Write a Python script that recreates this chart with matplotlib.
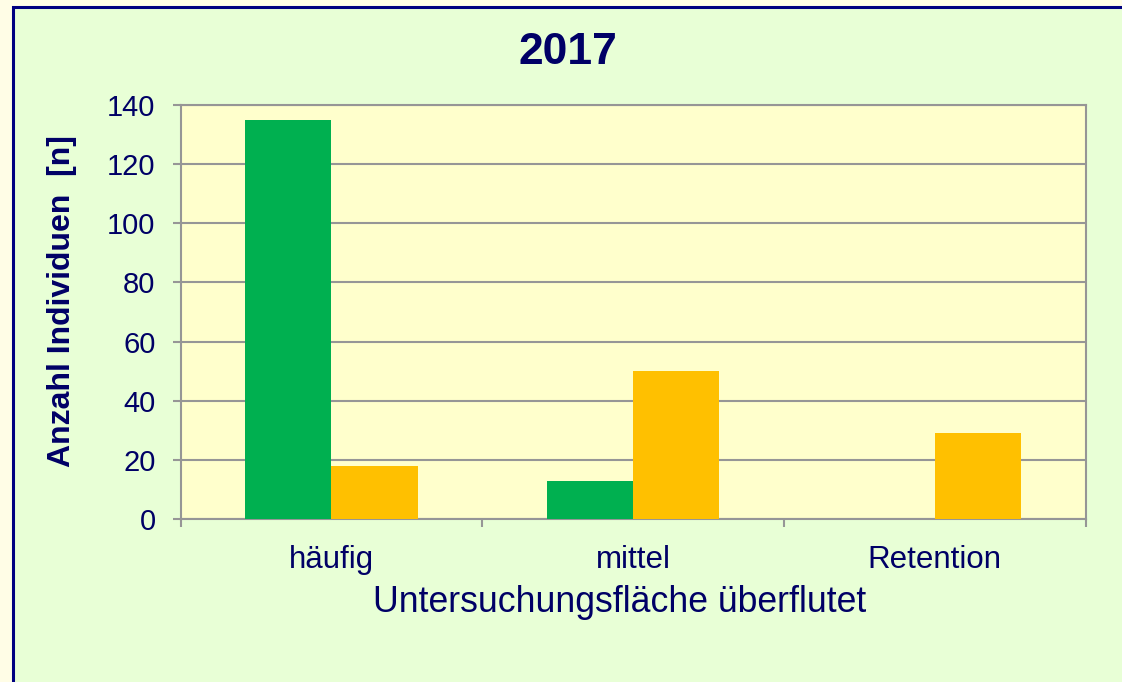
import matplotlib
matplotlib.use('Agg')
import matplotlib.pyplot as plt
import numpy as np
from matplotlib.patches import Rectangle

# data
categories = ['häufig', 'mittel', 'Retention']
green_values = [135, 13, 0]
orange_values = [18, 50, 29]
y_ticks = [0, 20, 40, 60, 80, 100, 120, 140]

title = '2017'
y_label = 'Anzahl Individuen  [n]'
x_label = 'Untersuchungsfläche überflutet'

navy = '#000066'
grid_gray = '#969696'

plt.rcParams['font.family'] = ['Liberation Sans', 'DejaVu Sans']

fig = plt.figure(figsize=(11.22, 6.82), dpi=100)
fig.patch.set_facecolor('#FFFDE6')

# chart area with navy frame (right and bottom edge run off the picture)
frame = Rectangle((13 / 1122, -0.05), 1.1, 1 - 6.5 / 682 + 0.05,
                  transform=fig.transFigure, facecolor='#E8FFD6',
                  edgecolor='#000080', linewidth=2.2, zorder=-1)
fig.patches.append(frame)

ax = fig.add_axes([180.5 / 1122, 1 - 519 / 682, 905 / 1122, 414 / 682])
ax.set_zorder(2)
ax.set_facecolor('#FFFFCC')

x = np.arange(len(categories))
bar_w = 1 / 3.5
ax.bar(x - bar_w / 2, green_values, width=bar_w, color='#00B050', zorder=3)
ax.bar(x + bar_w / 2, orange_values, width=bar_w, color='#FFC000', zorder=3)

ax.set_xlim(-0.5, len(categories) - 0.5)
ax.set_ylim(0, 140)
ax.set_yticks(y_ticks)
ax.yaxis.grid(True, color=grid_gray, linewidth=1.5, zorder=1)
ax.set_axisbelow(True)

ax.set_xticks(x)
ax.set_xticklabels(categories)
ax.set_xticks(np.arange(-0.5, len(categories), 1.0), minor=True)
ax.tick_params(axis='x', which='major', length=0, pad=19, labelsize=22.5, labelcolor=navy)
ax.tick_params(axis='x', which='minor', length=6, width=1.5, color=grid_gray)
ax.tick_params(axis='y', length=6, width=1.5, color=grid_gray, pad=12,
               labelsize=21, labelcolor=navy)

for s in ax.spines.values():
    s.set_color(grid_gray)
    s.set_linewidth(1.5)

fig.text(568 / 1122, 1 - 53 / 682, title, ha='center', va='center',
         fontsize=32, fontweight='bold', color=navy, zorder=3)
fig.text(62 / 1122, 1 - 301 / 682, y_label, ha='center', va='center',
         rotation=90, fontsize=23, fontweight='bold', color=navy, zorder=3)
fig.text(620 / 1122, 1 - 602 / 682, x_label, ha='center', va='center',
         fontsize=25.7, color=navy, zorder=3)

fig.savefig('out.png', dpi=100, facecolor=fig.get_facecolor())
